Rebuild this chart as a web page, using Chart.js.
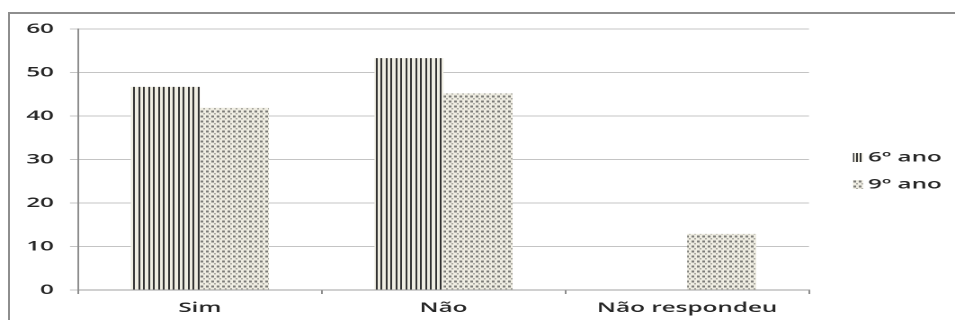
<!DOCTYPE html>
<html>
<head>
<meta charset="utf-8">
<script src="https://cdn.jsdelivr.net/npm/chart.js@4.4.1/dist/chart.umd.min.js"></script>
<style>
  html, body { margin: 0; padding: 0; background: #fff; }
  #wrap { position: relative; width: 955px; height: 320px; overflow: hidden; }
  #frame { position: absolute; left: 8px; top: 12px; width: 1000px; height: 400px;
           border: 2px solid #8e8e8e; box-sizing: border-box; }
  #c { position: absolute; left: 0; top: 0; transform-origin: 0 0; }
</style>
</head>
<body>
<div id="wrap">
  <div id="frame"></div>
  <canvas id="c" width="531" height="320"></canvas>
</div>
<script>
// Survey answers (%) by school year
const categories = ['Sim', 'Não', 'Não respondeu'];
const ano6 = [46.7, 53.3, 0];
const ano9 = [41.9, 45.2, 12.9];
const seriesNames = ['6º ano', '9º ano'];
const yTickValues = [0, 10, 20, 30, 40, 50, 60];

// The drawing is rendered narrow and widened horizontally, giving the wide lettering.
const CSS_W = 531;
const STRETCH = 955 / CSS_W;
const DPR = 2;
const canvas = document.getElementById('c');
canvas.style.transform = 'scaleX(' + STRETCH + ')';

// Fill patterns, tiles given in device pixels
function makePattern(w, h, draw) {
  const t = document.createElement('canvas');
  t.width = w; t.height = h;
  const g = t.getContext('2d');
  draw(g);
  const p = g.createPattern(t, 'repeat');
  p.setTransform(new DOMMatrix([1 / DPR, 0, 0, 1 / DPR, 0, 0]));
  return p;
}
const stripes = makePattern(11, 2, g => {
  g.fillStyle = '#efede2'; g.fillRect(0, 0, 11, 2);
  g.fillStyle = '#333333'; g.fillRect(0, 0, 2, 2); g.fillRect(5, 0, 2, 2);
});
const dots = makePattern(12, 10, g => {
  g.fillStyle = '#efede2'; g.fillRect(0, 0, 12, 10);
  g.fillStyle = '#7c7c78'; g.fillRect(1, 1, 3, 4); g.fillRect(7, 1, 3, 4);
  g.fillStyle = '#a9a8a1'; g.fillRect(4, 6, 2, 3); g.fillRect(10, 6, 2, 3);
});
// Smaller swatch used for the 6º ano legend key
const stripesKey = makePattern(4, 2, g => {
  g.fillStyle = '#efede2'; g.fillRect(0, 0, 4, 2);
  g.fillStyle = '#333333'; g.fillRect(0, 0, 2, 2);
});

const FONT = { family: "'Open Sans', 'Noto Sans', sans-serif", size: 13.5, weight: '600' };

// Legend drawn at the right of the plot
const sideLegend = {
  id: 'sideLegend',
  afterDraw(chart) {
    const ctx = chart.ctx;
    const boxX = 853 / STRETCH, textX = 868 / STRETCH;
    const rows = [157.5, 184.5];
    const keys = [stripesKey, dots];
    chart.data.datasets.forEach((ds, i) => {
      ctx.save();
      ctx.fillStyle = keys[i];
      ctx.fillRect(boxX, rows[i] - 4.5, 10 / STRETCH, 9);
      ctx.fillStyle = '#262626';
      ctx.font = FONT.weight + ' ' + FONT.size + 'px ' + FONT.family;
      ctx.textBaseline = 'middle';
      ctx.textAlign = 'left';
      ctx.fillText(ds.label, textX, rows[i]);
      ctx.restore();
    });
  }
};

new Chart(canvas, {
  type: 'bar',
  data: {
    labels: categories,
    datasets: [
      { label: seriesNames[0], data: ano6, backgroundColor: stripes, borderWidth: 0 },
      { label: seriesNames[1], data: ano9, backgroundColor: dots, borderWidth: 0 }
    ]
  },
  options: {
    responsive: false,
    animation: false,
    devicePixelRatio: DPR,
    categoryPercentage: 0.567,
    barPercentage: 1.0,
    layout: { padding: { left: 0, top: 29, right: CSS_W - 809 / STRETCH, bottom: 0 } },
    plugins: { legend: { display: false }, tooltip: { enabled: false } },
    scales: {
      x: {
        afterFit(s) { s.height = 30; },
        grid: { display: true, drawOnChartArea: false, offset: true, tickLength: 4, color: '#8c8c8c' },
        border: { display: true, color: '#a0a0a0', width: 1 },
        ticks: { font: FONT, color: '#262626', padding: 6, maxRotation: 0 }
      },
      y: {
        min: 0, max: 60,
        afterFit(s) { s.width = 78 / STRETCH; },
        afterBuildTicks(s) { s.ticks = yTickValues.map(v => ({ value: v })); },
        grid: { color: '#c4c4c4', lineWidth: 1, tickLength: 8 / STRETCH },
        border: { display: true, color: '#8e8e8e', width: 1 },
        ticks: { font: FONT, color: '#262626', padding: 16 / STRETCH }
      }
    }
  },
  plugins: [sideLegend]
});
</script>
</body>
</html>
